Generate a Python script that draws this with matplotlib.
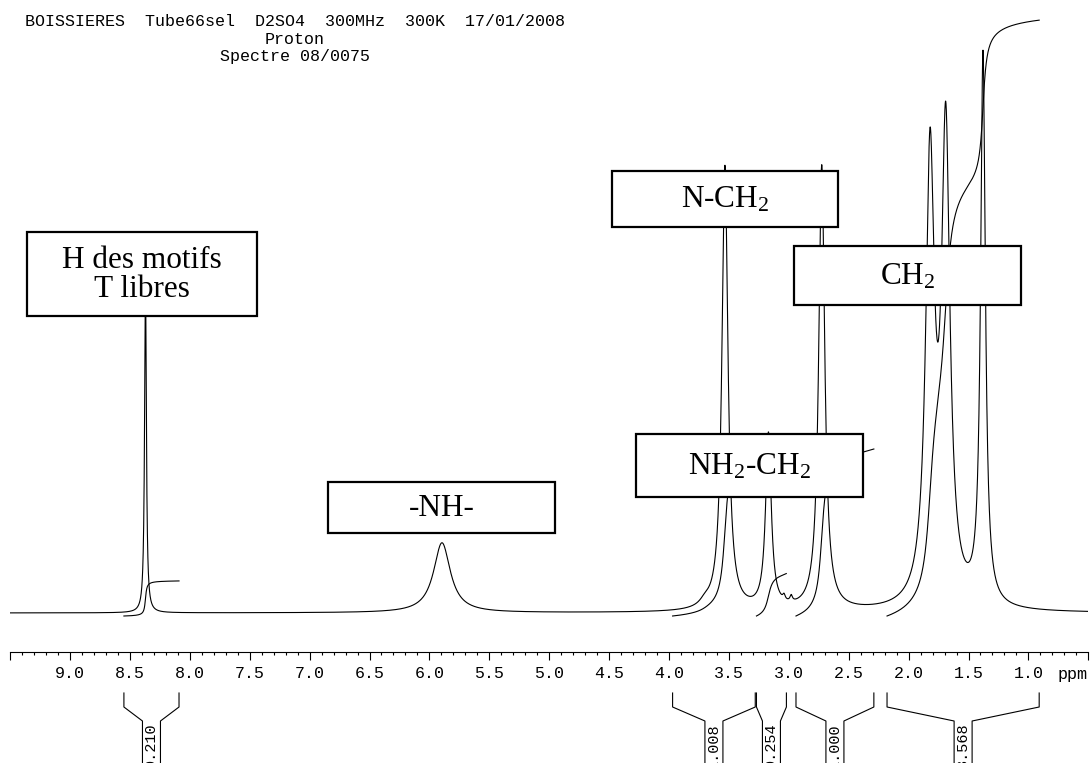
import numpy as np
import matplotlib
matplotlib.use('Agg')
import matplotlib.pyplot as plt
from matplotlib.patches import Rectangle
from matplotlib.ticker import MultipleLocator, FuncFormatter
import matplotlib.transforms as mtrans

plt.rcParams['mathtext.fontset'] = 'custom'
plt.rcParams['mathtext.rm'] = 'Liberation Serif'
plt.rcParams['mathtext.it'] = 'Liberation Serif:italic'
plt.rcParams['mathtext.bf'] = 'Liberation Serif:bold'

# header lines
header = ["BOISSIERES  Tube66sel  D2SO4  300MHz  300K  17/01/2008",
          "Proton",
          "Spectre 08/0075"]

# peaks (ppm, height, half width in ppm)
peak_ppm = [8.37, 5.895, 3.70, 3.533, 3.17, 3.04, 2.98, 2.725, 1.821, 1.690, 1.379]
peak_height = [330, 70, 5, 445, 175, 5, 6, 445, 440, 465, 550]
peak_hwhm = [0.009, 0.085, 0.05, 0.030, 0.028, 0.012, 0.012, 0.030, 0.043, 0.042, 0.024]

# integration regions
int_start = [8.55, 3.97, 3.27, 2.94, 2.18]
int_end = [8.09, 3.28, 3.02, 2.29, 0.91]
int_value = [0.210, 1.008, 0.254, 1.000, 3.568]

# assignment labels
labels = ["H des motifs\nT libres", "N-CH$_2$", "CH$_2$", "NH$_2$-CH$_2$", "-NH-"]

# layout (pixels from top-left)
W, H = 1092, 763
box_px = [(27, 232, 257, 316), (612, 171, 838, 227), (794, 246, 1021, 305),
          (636, 434, 863, 497), (328, 482, 555, 533)]
base_px = 613
axis_px = 652
x_left, x_right = 10.1, 1088.3
int_scale = 167

fig = plt.figure(figsize=(W / 100, H / 100), dpi=100)
fig.patch.set_facecolor('white')

ax = fig.add_axes([x_left / W, 0, (x_right - x_left) / W, 1])
ax.set_xlim(9.5, 0.5)
ax.set_ylim(-(H - base_px), base_px)
ax.axis('off')

lay = fig.add_axes([0, 0, 1, 1], zorder=3)
lay.set_xlim(0, W)
lay.set_ylim(H, 0)
lay.axis('off')
lay.patch.set_visible(False)

# spectrum
ppm = np.linspace(9.5, 0.5, 9001)
spec = np.zeros_like(ppm)
for p, h, w in zip(peak_ppm, peak_height, peak_hwhm):
    spec += h / (1 + ((ppm - p) / w) ** 2)
ax.plot(ppm, spec, color='black', lw=0.8)

# integral curves and brackets
tr = mtrans.blended_transform_factory(ax.transData, lay.transData)
col_hw = 9 / ((x_right - x_left) / 9.0)
for s, e, v in zip(int_start, int_end, int_value):
    m = (ppm <= s) & (ppm >= e)
    xs = ppm[m]
    ys = spec[m]
    cum = np.concatenate([[0], np.cumsum((ys[1:] + ys[:-1]) / 2)])
    cum = cum / cum[-1] * v * int_scale - 3
    ax.plot(xs, cum, color='black', lw=0.8)
    c = (s + e) / 2
    lay.plot([s, s, c + col_hw, c + col_hw], [693, 707, 721, 770],
             color='black', lw=0.8, transform=tr, clip_on=False)
    lay.plot([e, e, c - col_hw, c - col_hw], [693, 707, 721, 770],
             color='black', lw=0.8, transform=tr, clip_on=False)
    lay.text(c, 723, "%.3f" % v, rotation=90, ha='center', va='top',
             family='Liberation Mono', fontsize=11, transform=tr)

# ppm scale
sc = fig.add_axes([x_left / W, (H - axis_px) / H, (x_right - x_left) / W, 0.001])
sc.set_xlim(9.5, 0.5)
sc.patch.set_visible(False)
for k in ['top', 'left', 'right']:
    sc.spines[k].set_visible(False)
sc.spines['bottom'].set_linewidth(0.8)
sc.set_yticks([])
sc.xaxis.set_major_locator(MultipleLocator(0.5))
sc.xaxis.set_minor_locator(MultipleLocator(0.1))
sc.xaxis.set_major_formatter(FuncFormatter(
    lambda v, pos: '' if (v > 9.25 or v < 0.75) else '%.1f' % v))
sc.tick_params(axis='x', which='major', direction='out', length=6, width=0.8, pad=4)
sc.tick_params(axis='x', which='minor', direction='out', length=2.5, width=0.8)
for t in sc.get_xticklabels():
    t.set_family('Liberation Mono')
    t.set_fontsize(12)
lay.text(1088, 675, 'ppm', ha='right', va='center', family='Liberation Mono', fontsize=12)

# header
for i, line in enumerate(header):
    lay.text(295, 22 + 17 * i, line, ha='center', va='center',
             family='Liberation Mono', fontsize=12)

# label boxes
for (x0, y0, x1, y1), lab in zip(box_px, labels):
    lay.add_patch(Rectangle((x0, y0), x1 - x0, y1 - y0, facecolor='white',
                            edgecolor='black', lw=1.6))
    lay.text((x0 + x1) / 2, (y0 + y1) / 2 + 1, lab, ha='center', va='center',
             family='Liberation Serif', fontsize=22.5, linespacing=1.0)

fig.savefig('out.png', dpi=100)
